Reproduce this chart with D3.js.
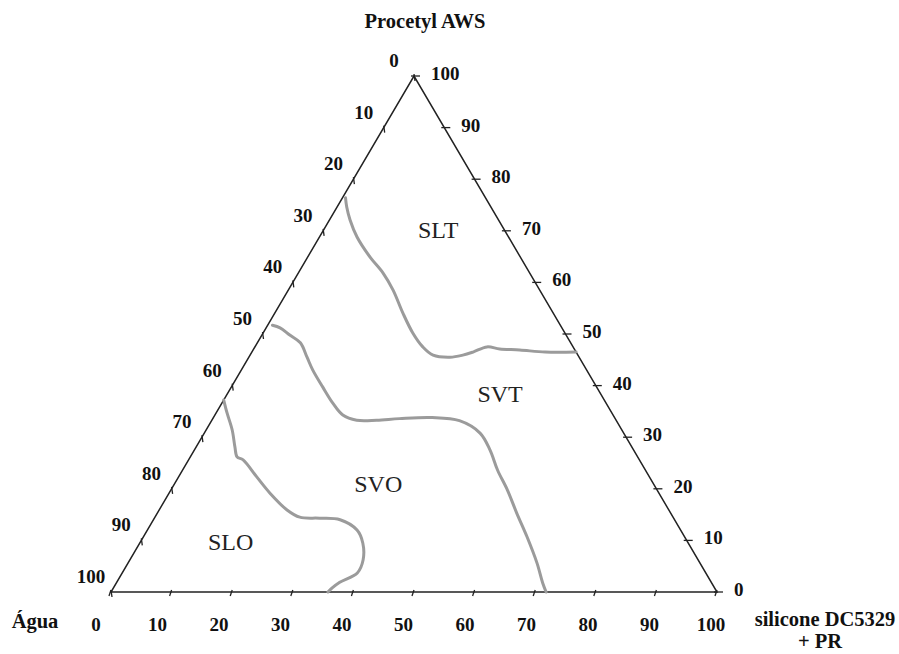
<!DOCTYPE html>
<html>
<head>
<meta charset="utf-8">
<script src="https://cdn.jsdelivr.net/npm/d3@7"></script>
<style>
  body { margin: 0; background: #fff; }
  text { font-family: "Liberation Serif", "Times New Roman", serif; fill: #111; }
  .tick-label, .axis-title { font-weight: bold; }
  .tick-label { font-size: 19px; }
  .axis-title { font-size: 20.5px; }
  .region { font-size: 24px; fill: #222; }
  .boundary { fill: none; stroke: #9b9b9b; stroke-width: 3px; stroke-linecap: round; }
</style>
</head>
<body>
<script>
  // tick values on the three edges (percent)
  var tickValues = [0, 10, 20, 30, 40, 50, 60, 70, 80, 90, 100];

  // phase boundaries, points as [silicone DC5329 + PR, Procetyl AWS] (%)
  var boundarySLT = [[0.5,76.4],[1.6,74.6],[3.4,72.1],[6.2,68.8],[10.3,64.9],[14.0,61.8],[17.3,58.5],
    [21.1,54.1],[24.7,50.2],[27.7,47.5],[30.2,45.9],[33.2,45.5],[35.1,45.9],[36.5,46.5],[38.3,47.5],
    [40.6,47.1],[44.0,46.9],[48.4,46.5],[53.5,46.5]];
  var boundarySVT = [[0.8,51.7],[2.3,51.2],[4.6,49.8],[7.1,48.3],[9.6,45.5],[11.8,43.0],[15.1,39.7],
    [18.3,36.6],[21.1,34.3],[23.9,33.3],[27.2,33.3],[30.8,33.6],[36.1,33.8],[40.9,33.2],[45.5,30.8],
    [48.8,27.5],[52.0,23.6],[55.5,19.8],[59.3,15.3],[63.3,10.7],[67.5,5.6],[70.4,1.7],[71.8,0]];
  var boundarySLO = [[0,37.2],[1.8,34.7],[4.3,31.4],[6.4,28.1],[7.7,26.2],[9.0,25.6],[12.9,22.3],
    [16.6,19.2],[21.1,15.9],[23.9,14.5],[27.3,14.3],[30.8,14.0],[34.6,12.0],[36.8,9.5],[38.5,6.2],
    [38.8,3.7],[36.8,1.9],[36.1,0.8],[35.8,0]];

  // region names with their position [silicone, procetyl]
  var regionNames = ["SLT", "SVT", "SVO", "SLO"];
  var regionPos = [[19.7, 68.6], [45.8, 36.8], [34.4, 19.4], [15.7, 8.1]];

  var width = 899, height = 654;

  var svg = d3.select('body').append('svg')
      .attr('width', width)
      .attr('height', height);

  // x runs along the base, y along the height of the triangle
  var xScale = d3.scaleLinear().domain([0, 100]).range([111, 717]);
  var yScale = d3.scaleLinear().domain([0, 100]).range([592, 76]);
  var baseLabelScale = d3.scaleLinear().domain([0, 100]).range([96, 711]);

  function px(d) { return xScale(d[0] + d[1] / 2); }
  function py(d) { return yScale(d[1]); }

  var corners = [[0, 0], [100, 0], [0, 100]];

  svg.append('path')
      .attr('d', d3.line().x(px).y(py)(corners) + 'Z')
      .attr('fill', 'none')
      .attr('stroke', '#222')
      .attr('stroke-width', 1.5);

  // ticks: bottom = silicone, left = agua (0 top .. 100 bottom), right = procetyl
  var ticks = svg.append('g').attr('stroke', '#222').attr('stroke-width', 1.3);

  tickValues.forEach(function (v) {
    var b = [v, 0];
    ticks.append('line')
        .attr('x1', px(b)).attr('y1', py(b) - 2)
        .attr('x2', px(b) - 2).attr('y2', py(b) + 4);

    var l = [0, 100 - v];
    ticks.append('line')
        .attr('x1', px(l)).attr('y1', py(l) - 2)
        .attr('x2', px(l) + 1).attr('y2', py(l) + 5);

    var r = [100 - v, v];
    ticks.append('line')
        .attr('x1', px(r) - 3).attr('y1', py(r))
        .attr('x2', px(r) + 6).attr('y2', py(r));
  });

  var labels = svg.append('g');

  tickValues.forEach(function (v) {
    labels.append('text')
        .attr('class', 'tick-label')
        .attr('x', baseLabelScale(v))
        .attr('y', 631)
        .attr('text-anchor', 'middle')
        .text(v);

    var l = [0, 100 - v];
    labels.append('text')
        .attr('class', 'tick-label')
        .attr('x', px(l) - 20)
        .attr('y', py(l) - 9)
        .attr('text-anchor', 'middle')
        .text(v);

    var r = [100 - v, v];
    labels.append('text')
        .attr('class', 'tick-label')
        .attr('x', px(r) + 17)
        .attr('y', py(r) + 4)
        .attr('text-anchor', 'start')
        .text(v);
  });

  // axis titles
  svg.append('text').attr('class', 'axis-title')
      .attr('x', 425).attr('y', 28).attr('text-anchor', 'middle')
      .text('Procetyl AWS');
  svg.append('text').attr('class', 'axis-title')
      .attr('x', 35).attr('y', 628).attr('text-anchor', 'middle')
      .text('Água');
  svg.append('text').attr('class', 'axis-title')
      .attr('x', 825).attr('y', 626).attr('text-anchor', 'middle')
      .text('silicone DC5329');
  svg.append('text').attr('class', 'axis-title')
      .attr('x', 820).attr('y', 648).attr('text-anchor', 'middle')
      .text('+ PR');

  // boundaries
  var line = d3.line().x(px).y(py).curve(d3.curveCatmullRom);

  svg.selectAll('.boundary')
      .data([boundarySLT, boundarySVT, boundarySLO])
      .enter().append('path')
      .attr('class', 'boundary')
      .attr('d', line);

  svg.selectAll('.region')
      .data(regionNames)
      .enter().append('text')
      .attr('class', 'region')
      .attr('x', function (d, i) { return px(regionPos[i]); })
      .attr('y', function (d, i) { return py(regionPos[i]); })
      .attr('text-anchor', 'middle')
      .text(function (d) { return d; });
</script>
</body>
</html>
